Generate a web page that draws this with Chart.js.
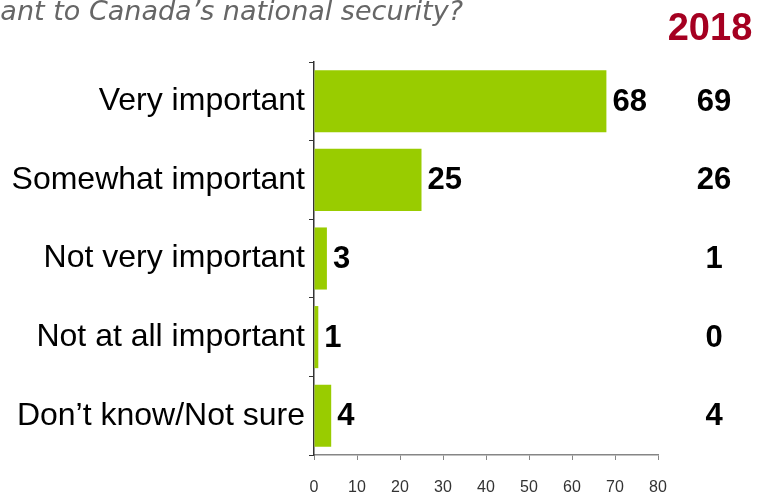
<!DOCTYPE html>
<html>
<head>
<meta charset="utf-8">
<script src="https://cdn.jsdelivr.net/npm/chart.js@4.4.0/dist/chart.umd.min.js"></script>
<style>
  html, body { margin: 0; padding: 0; background: #fff; }
  #wrap { width: 757px; height: 493px; position: relative; }
</style>
</head>
<body>
<div id="wrap"><canvas id="myChart" width="757" height="493"></canvas></div>
<script>
// data
const categories = ["Very important", "Somewhat important", "Not very important", "Not at all important", "Don\u2019t know/Not sure"];
const values2019 = [68, 25, 3, 1, 4];
const values2018 = [69, 26, 1, 0, 4];
const xTicks = [0, 10, 20, 30, 40, 50, 60, 70, 80];
const titleText = "ant to Canada\u2019s national security?";
const yearLabel = "2018";

const extraText = {
  id: "extraText",
  afterDatasetsDraw(chart) {
    const ctx = chart.ctx;
    const meta = chart.getDatasetMeta(0);
    ctx.save();
    // question text (cut off on the left)
    ctx.font = "italic 27px 'DejaVu Sans', sans-serif";
    ctx.fillStyle = "#666666";
    ctx.textAlign = "right";
    ctx.textBaseline = "alphabetic";
    ctx.fillText(titleText, 463, 20);
    // year header
    ctx.font = "bold 38px Arial, 'Liberation Sans', sans-serif";
    ctx.fillStyle = "#A50021";
    ctx.textAlign = "center";
    ctx.fillText(yearLabel, 710, 40);
    // value labels
    ctx.font = "bold 31px Arial, 'Liberation Sans', sans-serif";
    ctx.fillStyle = "#000";
    ctx.textBaseline = "middle";
    meta.data.forEach((bar, i) => {
      ctx.textAlign = "left";
      ctx.fillText(String(values2019[i]), bar.x + 6, bar.y + 1);
      ctx.textAlign = "center";
      ctx.fillText(String(values2018[i]), 714, bar.y + 1);
    });
    ctx.restore();
  }
};

let myChart = document.getElementById("myChart").getContext("2d");
new Chart(myChart, {
  type: "bar",
  data: {
    labels: categories,
    datasets: [{
      label: "2019",
      data: values2019,
      backgroundColor: "#99CC00",
      barPercentage: 0.79,
      categoryPercentage: 1
    }]
  },
  options: {
    indexAxis: "y",
    responsive: false,
    animation: false,
    layout: { padding: { top: 62, right: 99, left: 0, bottom: 0 } },
    plugins: { legend: { display: false }, tooltip: { enabled: false } },
    scales: {
      x: {
        min: 0,
        max: 80,
        afterFit: (scale) => { scale.height = 38; },
        afterBuildTicks: (scale) => { scale.ticks = xTicks.map(v => ({ value: v })); },
        border: { color: "#868686", width: 1.5 },
        grid: { drawOnChartArea: false, drawTicks: true, tickLength: 5, color: "#868686" },
        ticks: {
          color: "#333",
          padding: 18,
          font: { family: "Arial, 'Liberation Sans', sans-serif", size: 16 }
        }
      },
      y: {
        afterFit: (scale) => { scale.width = 314; },
        border: { color: "#333", width: 1.5 },
        grid: { offset: true, drawOnChartArea: false, drawTicks: true, tickLength: 5, color: "#333" },
        ticks: {
          color: "#000",
          padding: 4,
          font: { family: "Arial, 'Liberation Sans', sans-serif", size: 32 }
        }
      }
    }
  },
  plugins: [extraText]
});
</script>
</body>
</html>
